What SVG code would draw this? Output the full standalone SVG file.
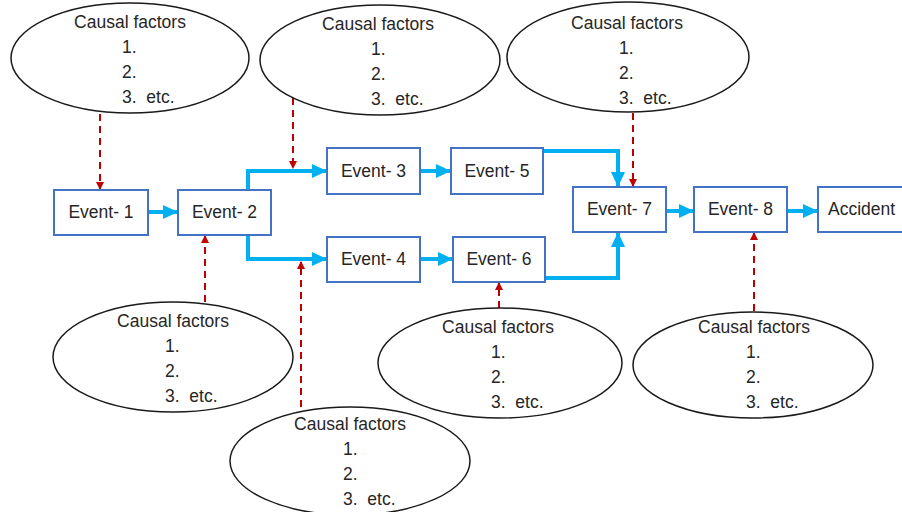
<svg xmlns="http://www.w3.org/2000/svg" width="902" height="512" viewBox="0 0 902 512">
<defs>
<marker id="bh" markerUnits="userSpaceOnUse" markerWidth="16" markerHeight="14" refX="14" refY="7" orient="auto"><path d="M0,0 L15,7 L0,14 Z" fill="#00B0F0"/></marker>
<marker id="rh" markerUnits="userSpaceOnUse" markerWidth="8" markerHeight="8" refX="7" refY="4" orient="auto"><path d="M0,0 L8,4 L0,8 Z" fill="#C00000"/></marker>
</defs>
<style>
.box{fill:#fff;stroke:#4472C4;stroke-width:2}
.ell{fill:#fff;stroke:#1a1a1a;stroke-width:1.5}
.t{font-family:"Liberation Sans",Arial,sans-serif;font-size:17.5px;fill:#262626;white-space:pre}
.c{text-anchor:middle}
.blue{fill:none;stroke:#00B0F0;stroke-width:4;marker-end:url(#bh)}
.red{fill:none;stroke:#C00000;stroke-width:2;stroke-dasharray:7 5;marker-end:url(#rh)}
</style>
<rect width="902" height="512" fill="#fff"/>
<g id="connectors">
<path class="blue" d="M148,212 H177"/>
<path class="blue" d="M248,190 V171 H326"/>
<path class="blue" d="M248,235 V259 H326"/>
<path class="blue" d="M420,171 H450"/>
<path class="blue" d="M420,259 H452"/>
<path class="blue" d="M543,151 H618 V186"/>
<path class="blue" d="M545,278 H618 V233"/>
<path class="blue" d="M666,211 H693"/>
<path class="blue" d="M787,211 H817"/>
<path class="red" d="M100,114 V189"/>
<path class="red" d="M293,98 V168"/>
<path class="red" d="M633,113 V186"/>
<path class="red" d="M205,302 V236"/>
<path class="red" d="M301,407 V262"/>
<path class="red" d="M499,308 V283"/>
<path class="red" d="M754,311 V233"/>
</g>
<g id="event1"><rect class="box" x="54" y="190" width="94" height="45"/><text class="t c" x="101" y="218">Event- 1</text></g>
<g id="event2"><rect class="box" x="178" y="190" width="93" height="45"/><text class="t c" x="224.5" y="218">Event- 2</text></g>
<g id="event3"><rect class="box" x="327" y="148" width="93" height="46"/><text class="t c" x="373.5" y="177">Event- 3</text></g>
<g id="event5"><rect class="box" x="451" y="148" width="92" height="46"/><text class="t c" x="497" y="177">Event- 5</text></g>
<g id="event4"><rect class="box" x="327" y="237" width="93" height="45"/><text class="t c" x="373.5" y="265">Event- 4</text></g>
<g id="event6"><rect class="box" x="453" y="237" width="92" height="45"/><text class="t c" x="499" y="265">Event- 6</text></g>
<g id="event7"><rect class="box" x="573" y="187" width="93" height="45"/><text class="t c" x="619.5" y="215">Event- 7</text></g>
<g id="event8"><rect class="box" x="694" y="187" width="93" height="45"/><text class="t c" x="740.5" y="215">Event- 8</text></g>
<g id="accident"><rect class="box" x="818" y="187" width="100" height="45"/><text class="t" x="828" y="215">Accident</text></g>
<g id="cf1"><ellipse class="ell" cx="130" cy="58" rx="119" ry="55"/><text class="t c" x="130" y="28">Causal factors</text><text class="t" x="122" y="53">1.</text><text class="t" x="122" y="78">2.</text><text class="t" x="122" y="103">3.  etc.</text></g>
<g id="cf2"><ellipse class="ell" cx="380" cy="60" rx="120" ry="55"/><text class="t c" x="378" y="30">Causal factors</text><text class="t" x="371" y="55">1.</text><text class="t" x="371" y="80">2.</text><text class="t" x="371" y="105">3.  etc.</text></g>
<g id="cf3"><ellipse class="ell" cx="628" cy="57" rx="121" ry="55"/><text class="t c" x="627" y="29">Causal factors</text><text class="t" x="619" y="54">1.</text><text class="t" x="619" y="79">2.</text><text class="t" x="619" y="104">3.  etc.</text></g>
<g id="cf4"><ellipse class="ell" cx="173" cy="357" rx="120" ry="55"/><text class="t c" x="173" y="327">Causal factors</text><text class="t" x="165" y="352">1.</text><text class="t" x="165" y="377">2.</text><text class="t" x="165" y="402">3.  etc.</text></g>
<g id="cf5"><ellipse class="ell" cx="350" cy="461" rx="120" ry="54"/><text class="t c" x="350" y="430">Causal factors</text><text class="t" x="343" y="455">1.</text><text class="t" x="343" y="480">2.</text><text class="t" x="343" y="505">3.  etc.</text></g>
<g id="cf6"><ellipse class="ell" cx="500" cy="363" rx="122" ry="55"/><text class="t c" x="498" y="333">Causal factors</text><text class="t" x="491" y="358">1.</text><text class="t" x="491" y="383">2.</text><text class="t" x="491" y="408">3.  etc.</text></g>
<g id="cf7"><ellipse class="ell" cx="753" cy="365" rx="120" ry="53"/><text class="t c" x="754" y="333">Causal factors</text><text class="t" x="746" y="358">1.</text><text class="t" x="746" y="383">2.</text><text class="t" x="746" y="408">3.  etc.</text></g>
</svg>
